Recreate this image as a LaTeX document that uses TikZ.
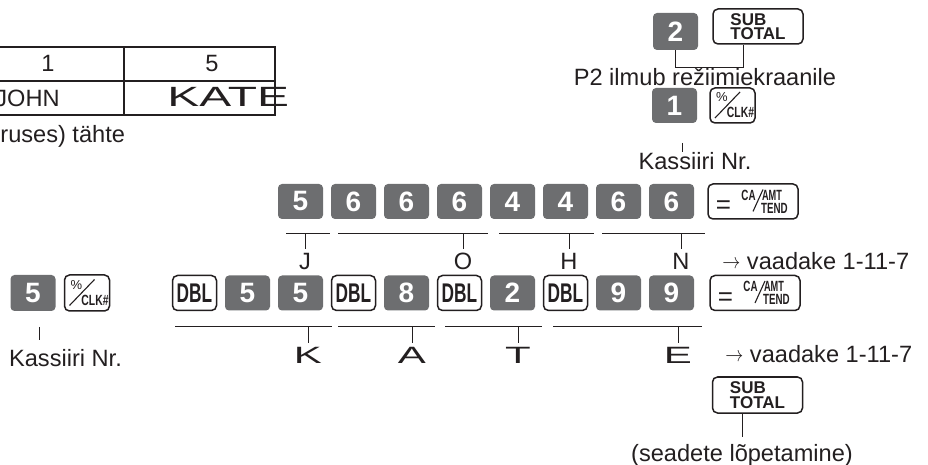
\documentclass[tikz,border=0pt]{standalone}
\usepackage{fontspec}
\setmainfont{Liberation Sans}
\usepackage{tikz}
\usetikzlibrary{positioning, calc}
\definecolor{keygray}{RGB}{109, 110, 112}
\definecolor{inkgray}{RGB}{35, 31, 32}

% faces of the two printed function keys
\newcommand{\clkface}[1]{%
  \node[font=\fontsize{6.5}{6}\selectfont] (#1-pct) at ($(#1.center)+(-10.5,-8)$) {\%};
  \draw[line width=0.55pt, inkgray] ($(#1.center)+(-17.5,12.5)$) -- ($(#1.center)+(7.5,-13.5)$);
  \node[keytxt] (#1-clk) at ($(#1.center)+(8,7)$) {\scalebox{0.7}[1]{CLK\#}};
}
\newcommand{\caface}[1]{%
  \node[font=\fontsize{13}{13}\selectfont] (#1-eq) at ($(#1.center)+(-29.5,6)$) {=};
  \node[keytxt] (#1-ca) at ($(#1.center)+(-4.5,-6.5)$) {\scalebox{0.66}[1]{CA}};
  \draw[line width=0.55pt, inkgray] ($(#1.center)+(0,10)$) -- ($(#1.center)+(10,-12)$);
  \node[keytxt] (#1-amt) at ($(#1.center)+(19,-6.5)$) {\scalebox{0.62}[1]{AMT}};
  \node[keytxt] (#1-tend) at ($(#1.center)+(21.5,6.5)$) {\scalebox{0.66}[1]{TEND}};
}

\begin{document}
\begin{tikzpicture}[
    x=0.5pt, y=-0.5pt,
    every node/.style={font=\fontsize{11.8}{14}\selectfont, text=inkgray, inner sep=0pt},
    numkey/.style={fill=keygray, rounded corners=2pt, minimum width=22.5pt, minimum height=17.5pt, text=white, font=\fontsize{14}{14}\selectfont\bfseries},
    fnkey/.style={draw=inkgray, line width=0.75pt, fill=white, rounded corners=2.5pt, minimum height=17.5pt},
    dblkey/.style={fnkey, minimum width=22pt, font=\fontsize{13.5}{13}\selectfont\bfseries},
    sqkey/.style={fnkey, minimum width=22.5pt},
    wkey/.style={fnkey, minimum width=45pt},
    subkey/.style={wkey, align=left, font=\fontsize{8.5}{7.2}\selectfont\bfseries},
    keytxt/.style={font=\fontsize{7.4}{7.4}\selectfont\bfseries},
    brk/.style={draw=inkgray, line width=0.5pt},
    tick/.style={brk, shorten >=2pt},
    tbl/.style={draw=inkgray, line width=0.7pt}
]
\useasboundingbox (0,0) rectangle (928,465);
\clip (0,0) rectangle (928,465);

% name table
\node[anchor=base] (c1) at (48,72) {1};
\node[anchor=base] (c5) at (212,72) {5};
\node[anchor=base east] (cjohn) at (60,107) {JOHN};
\node[anchor=base west] (ckate) at (167,107) {\scalebox{2.03}[1.18]{KATE}};
\draw[tbl] (-5,47) rectangle (275,115);
\draw[tbl] (-5,81) -- (275,81) (124,47) -- (124,115);
\node[anchor=base west] (cnote) at (0,143) {ruses) tähte};

% end of setting
\node[numkey, minimum height=18.5pt] (t2) at (675.5,31.5) {2};
\node[subkey] (tsub) at (758,26.5) {SUB\\TOTAL};
\coordinate (tjoin) at (743,68);
\draw[brk] (t2.south) |- (tjoin) -- (tjoin |- tsub.south);
\node[anchor=base] (tmsg) at (705,86) {P2 ilmub režiimiekraanile};

% cashier number
\node[numkey] (t1) at (674.5,105.5) {1};
\node[sqkey] (tclk) at (732.5,105.5) {};
\clkface{tclk}
\node[anchor=base] (tcash) at (695,170) {Kassiiri Nr.};
\coordinate (tcashtop) at (682,143);
\draw[brk] (tcashtop) -- (tcashtop |- tcash.north);

% JOHN
\node[numkey] (a0) at (300.5,201.5) {5};
\node[numkey] (a1) at (353.5,201.5) {6};
\node[numkey] (a2) at (406.5,201.5) {6};
\node[numkey] (a3) at (459.5,201.5) {6};
\node[numkey] (a4) at (512.5,201.5) {4};
\node[numkey] (a5) at (565.5,201.5) {4};
\node[numkey] (a6) at (618.5,201.5) {6};
\node[numkey] (a7) at (671.5,201.5) {6};
\node[wkey] (aca) at (753,201.5) {};
\caface{aca}
\foreach \l/\r/\m/\t in {286/330/305/J, 338/488/463/O, 499/594/569/H, 602/705/681/N}{
  \node[anchor=base] (lab\t) at (\m,270) {\t};
  \draw[brk] (\l,234) -- (\r,234);
  \draw[tick] (lab\t.north |- 0,234) -- (lab\t.north);
}
\node[anchor=base west] (aref) at (722,270) {\raisebox{0.5pt}{\scalebox{0.75}[0.9]{$\rightarrow$}} vaadake 1-11-7};

% left cashier
\node[numkey, minimum height=18pt] (l5) at (33,293) {5};
\node[sqkey, minimum height=18pt] (lclk) at (87,293) {};
\clkface{lclk}
\node[anchor=base] (lcash) at (65.5,366) {Kassiiri Nr.};
\coordinate (lcashtop) at (39,327);
\draw[tick, shorten >=4pt] (lcashtop) -- (lcashtop |- lcash.north);

% KATE
\node[dblkey] (b0) at (194.5,293) {\scalebox{0.64}[1]{DBL}};
\node[numkey] (b1) at (247.5,293) {5};
\node[numkey] (b2) at (300.5,293) {5};
\node[dblkey] (b3) at (353.5,293) {\scalebox{0.64}[1]{DBL}};
\node[numkey] (b4) at (406.5,293) {8};
\node[dblkey] (b5) at (459.5,293) {\scalebox{0.64}[1]{DBL}};
\node[numkey] (b6) at (512.5,293) {2};
\node[dblkey] (b7) at (565.5,293) {\scalebox{0.64}[1]{DBL}};
\node[numkey] (b8) at (618.5,293) {9};
\node[numkey] (b9) at (671.5,293) {9};
\node[wkey] (bca) at (755,293) {};
\caface{bca}
\foreach \l/\r/\m/\t in {175/332/308/K, 338/435/412/A, 445/542/518/T, 553/702/678/E}{
  \node[anchor=base] (wid\t) at (\m,364) {\scalebox{1.78}[1]{\t}};
  \draw[brk] (\l,327) -- (\r,327);
  \draw[tick] (wid\t.north |- 0,327) -- (wid\t.north);
}
\node[anchor=base west] (bref) at (725,363) {\raisebox{0.5pt}{\scalebox{0.75}[0.9]{$\rightarrow$}} vaadake 1-11-7};

% close
\node[subkey, minimum height=18pt] (bsub) at (757.5,395) {SUB\\TOTAL};
\node[anchor=base] (bend) at (742,461) {(seadete lõpetamine)};
\draw[tick, shorten >=3pt] (bend.north |- bsub.south) -- (bend.north);
\end{tikzpicture}
\end{document}
